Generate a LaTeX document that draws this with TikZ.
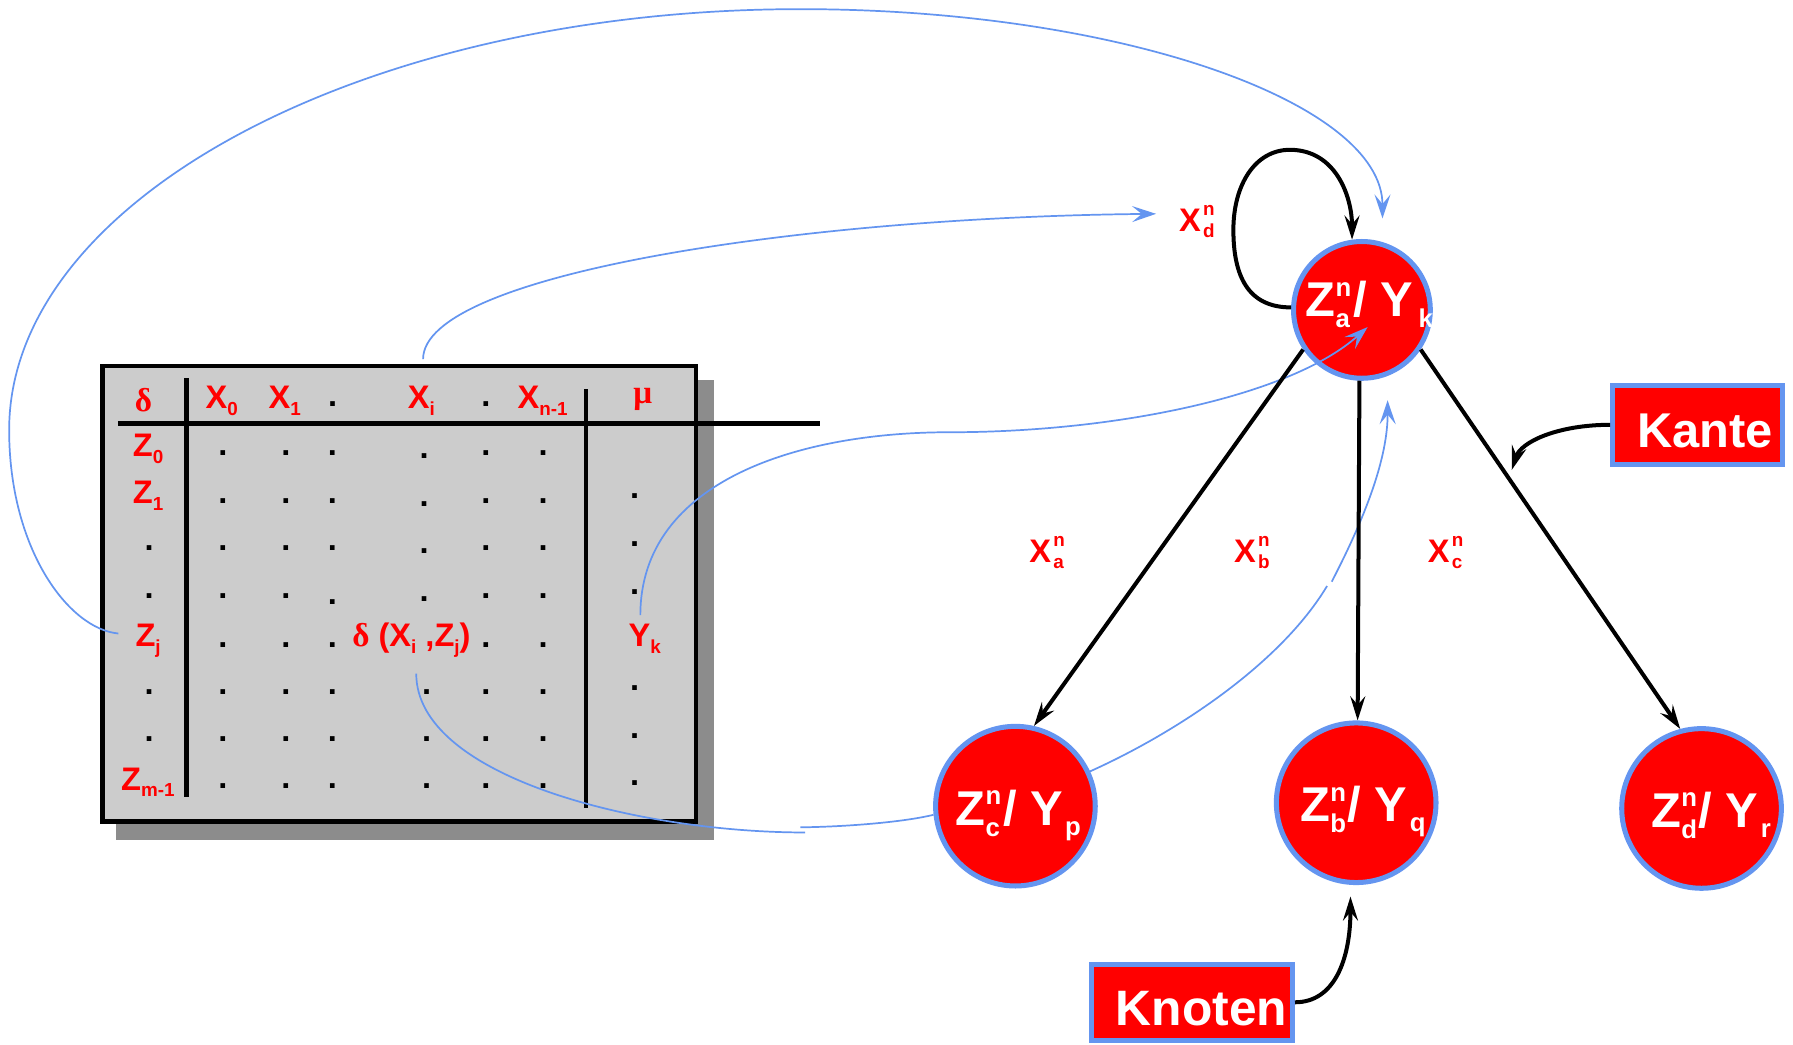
\documentclass[tikz,border=0pt]{standalone}
\usepackage{fontspec}
\setmainfont{Liberation Sans}
\newfontfamily\grk{Liberation Serif}
\usetikzlibrary{arrows.meta}
\definecolor{myblue}{RGB}{100,149,240}
\definecolor{tgray}{RGB}{204,204,204}
\definecolor{sgray}{RGB}{140,140,140}
\newcommand\BigF{\fontsize{42.7}{44}\selectfont\bfseries}
\newcommand\BigS{\fontsize{22.5}{23}\selectfont\bfseries}
\newcommand\LabF{\fontsize{28.5}{29}\selectfont\bfseries}
\newcommand\LabS{\fontsize{16.5}{17}\selectfont\bfseries}
\newcommand\GrkF{\fontsize{29}{30}\selectfont\grk}
\newcommand\BSS[2]{{\BigS\setbox0\hbox{#1}\setbox2\hbox{#2}\ifdim\wd0>\wd2 \wd2=\wd0 \fi\rlap{\raise18pt\box0}\lower9.8pt\box2}\kern1.5pt}
\newcommand\BSub[1]{{\lower9pt\hbox{\BigS #1}}}
\newcommand\LSS[2]{{\LabS\setbox0\hbox{#1}\setbox2\hbox{#2}\ifdim\wd0>\wd2 \wd2=\wd0 \fi\rlap{\raise14.5pt\box0}\lower5.5pt\box2}}
\newcommand\TSub[1]{{\lower6pt\hbox{\LabS #1}}}
\newcommand\Ctr[2]{\makebox[0pt]{\hspace*{#1}#2}}
\begin{document}
\begin{tikzpicture}[x=1pt,y=-1pt,
  blk/.style={line width=3.5pt, black, -{Stealth[length=21pt,width=13pt,inset=7.5pt]}},
  blu/.style={line width=1.5pt, myblue},
  bluarr/.style={blu, -{Stealth[length=21pt,width=14pt,inset=8.5pt]}},
  circ/.style={circle, fill=red, draw=myblue, line width=4.4pt, inner sep=0pt, text=white, font=\BigF},
  lbox/.style={rectangle, fill=red, draw=myblue, line width=4.4pt, inner sep=0pt, text=white, font=\BigF},
  lab/.style={text=red, font=\LabF, inner sep=0pt},
  tdot/.style={text=black, font=\LabF, inner sep=0pt, anchor=base},
  tline/.style={line width=4pt, black}]
\fill[white] (0,0) rectangle (1568,913);
\useasboundingbox (0,0) rectangle (1568,913);

% table
\fill[sgray] (101.6,332) rectangle (624.6,734.5);
\draw[tline, fill=tgray] (89.6,320) rectangle (608.6,718.5);
\draw[tline] (103,370.2) -- (717,370.2);
\draw[tline] (163.3,330.8) -- (163.3,696.7);
\draw[tline] (512.4,340.5) -- (512.4,706.9);

\node[lab, anchor=base] (hdelta) at (125.5,360) {\GrkF δ};
\node[lab, anchor=base] (hx0) at (194,357.5) {X\TSub{0}};
\node[lab, anchor=base] (hx1) at (249,357.5) {X\TSub{1}};
\node[lab, anchor=base] (hxi) at (368.5,357.5) {X\TSub{i}};
\node[lab, anchor=base] (hxn) at (474.5,357.5) {X\TSub{n-1}};
\node[lab, anchor=base] (hmu) at (562,353) {\GrkF μ};
\node[lab, anchor=base] (z0) at (129.5,399.4) {Z\TSub{0}};
\node[lab, anchor=base] (z1) at (129.5,440.2) {Z\TSub{1}};
\node[lab, anchor=base] (zj) at (129.5,565.5) {Z\TSub{j}};
\node[lab, anchor=base] (zm) at (129.3,690.9) {Z\TSub{m-1}};
\node[lab, anchor=base] (dxz) at (359.8,565.5) {{\GrkF δ} (X\TSub{i} ,Z\TSub{j})};
\node[lab, anchor=base] (yk) at (563.8,565.5) {Y\TSub{k}};

\foreach \x/\y [count=\k] in {291/354, 425/354,
 195/396.4, 250/396.4, 290.7/396.4, 371/398.7, 425/396.4, 475/396.4,
 195/438.7, 250/438.7, 290.7/438.7, 371/441, 425/438.7, 475/438.7, 555/434.4,
 130.5/479.5, 195/479.5, 250/479.5, 290.7/479.5, 371/481.8, 425/479.5, 475/479.5, 555/476,
 130.5/521.6, 195/521.8, 250/521.8, 290.7/526.8, 371/524, 425/521.8, 475/521.8, 555/518,
 195/564, 250/564, 290.7/564, 425/564, 475/564,
 130.5/605.4, 195/605.4, 250/605.4, 290.7/605.4, 373/605.4, 425/605.4, 475/605.4, 555/602,
 130.5/646.5, 195/646.5, 250/646.5, 290.7/646.5, 373/646.5, 425/646.5, 475/646.5, 555/643.5,
 195/688, 250/688, 290.7/688, 373/688, 425/688, 475/688, 555/685}
  \node[tdot] (dot\k) at (\x,\y+1.9) {.};

% graph nodes
\node[circ, minimum size=119.6pt, text height=31pt, text depth=19pt] (za) at (1191,271) {\Ctr{13pt}{Z\BSS{n}{a}/ Y\BSub{\kern5pt k}}};
\node[circ, minimum size=139.6pt, text height=40pt, text depth=7pt] (zc) at (888,705) {\Ctr{5pt}{Z\BSS{n}{c}/ Y\BSub{\kern2pt p}}};
\node[circ, minimum size=139.6pt, text height=40pt, text depth=7pt] (zb) at (1186,702) {\Ctr{12pt}{Z\BSS{n}{b}/ Y\BSub{\kern2pt q}}};
\node[circ, minimum size=139.6pt, text height=40pt, text depth=7pt] (zd) at (1488,707) {\Ctr{17pt}{Z\BSS{n}{d}/ Y\BSub{\kern2pt r}}};

\node[lbox, minimum width=148.6pt, minimum height=68.9pt, text height=39.4pt, text depth=0pt] (kante) at (1484.5,371.5) {\Ctr{13pt}{Kante}};
\node[lbox, minimum width=176.1pt, minimum height=66.6pt, text height=41.4pt, text depth=0pt] (knoten) at (1042.25,876.5) {\Ctr{17pt}{\fontsize{43.5}{44}\selectfont Knoten}};

\node[lab, anchor=base west] (lxd) at (1031,202.6) {X\kern2pt\LSS{n}{d}};
\node[lab, anchor=base west] (lxa) at (900,492) {X\kern2pt\LSS{n}{a}};
\node[lab, anchor=base west] (lxb) at (1079,492) {X\kern2pt\LSS{n}{b}};
\node[lab, anchor=base west] (lxc) at (1248.5,492) {X\kern2pt\LSS{n}{c}};

% coordinates for free connector ends
\coordinate (c1s) at (103.5,554);
\coordinate (c1a) at (8,376);
\coordinate (c1b) at (700,8);
\coordinate (c1e) at (1209,191);
\coordinate (c2s) at (370,314);
\coordinate (c2e) at (1011,187);
\coordinate (c3s) at (560,538);
\coordinate (c3m) at (830,378);
\coordinate (c3e) at (1196,286);
\coordinate (c4s) at (364,589);
\coordinate (c4m) at (704,728);
\coordinate (c4n) at (700,723.5);
\coordinate (c5m) at (1160.5,512.5);
\coordinate (c5n) at (1164.6,508.7);
\coordinate (c5e) at (1213.5,350);
\coordinate (kTip) at (1322,411);
\coordinate (nTip) at (1181,784);
\coordinate (loopL) at (1078.6,201);
\coordinate (loopT) at (1128,131);

% blue connectors
\draw[bluarr] (c1s) .. controls (60,550) and (8,480) .. (c1a) .. controls (8,174) and (319,8) .. (c1b) .. controls (980,8) and (1209,90) .. (c1e);
\draw[bluarr] (c2s) .. controls (370,240) and (700,190) .. (c2e);
\draw[bluarr] (c3s) .. controls (560,420) and (700,378) .. (c3m) .. controls (980,378) and (1130,345) .. (c3e);
\draw[blu] (c4s) .. controls (364,680) and (560,728) .. (c4m);
\draw[blu] (c4n) .. controls (740,723) and (790,719) .. (zc.186);
\draw[blu] (zc.25) .. controls (1030,640) and (1120,580) .. (c5m);
\draw[bluarr] (c5n) .. controls (1195,450) and (1213.5,400) .. (c5e);

% black connectors
\draw[blk] (za.214) -- (zc.77);
\draw[blk] (za.268) -- (zb.89);
\draw[blk] (za.326) -- (zd.105);
\draw[blk] (za.178) .. controls +(-38,0) and +(0,40) .. (loopL) .. controls +(0,-40) and +(-30,0) .. (loopT) .. controls +(40,0) and +(0,-38) .. (za.98);
\draw[blk] (kante.west) .. controls +(-45,0) and +(8,-25) .. (kTip);
\draw[blk] (knoten.east) .. controls +(34,0) and +(0,56) .. (nTip);
\end{tikzpicture}
\end{document}
